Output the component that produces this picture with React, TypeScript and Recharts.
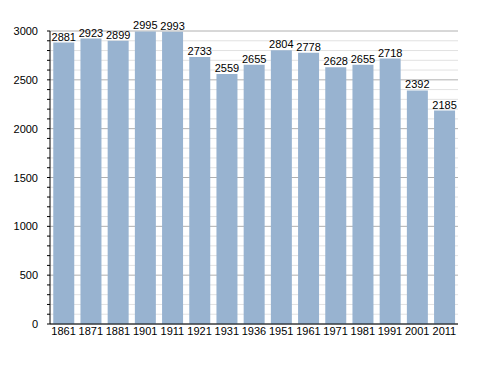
import React from "react";
import {
  BarChart,
  Bar,
  XAxis,
  YAxis,
  CartesianGrid,
  LabelList,
} from "recharts";

// census years and population
const years = ["1861", "1871", "1881", "1901", "1911", "1921", "1931", "1936", "1951", "1961", "1971", "1981", "1991", "2001", "2011"];
const population = [2881, 2923, 2899, 2995, 2993, 2733, 2559, 2655, 2804, 2778, 2628, 2655, 2718, 2392, 2185];
const majorTicks = [0, 500, 1000, 1500, 2000, 2500, 3000];
const minorTicks = Array.from({ length: 31 }, (_, i) => i * 100);

const font = "'Liberation Sans', Arial, sans-serif";

const YTick = (props: any) => {
  const { x, y, payload } = props;
  const major = payload.value % 500 === 0;
  return (
    <g>
      <line x1={x - 3} x2={x} y1={y} y2={y} stroke="#000" strokeWidth={1} />
      {major && (
        <text x={x - 12} y={y} dy={4} textAnchor="end" fontSize={11} fill="#000" fontFamily={font}>
          {payload.value}
        </text>
      )}
    </g>
  );
};

export default function App() {
  const data = years.map((year, i) => ({ year, value: population[i] }));

  return (
    <div style={{ position: "absolute", left: 0, top: 0, background: "#fff" }}>
      <BarChart
        width={488}
        height={373}
        data={data}
        margin={{ top: 31, right: 30, bottom: 29, left: 0 }}
        barCategoryGap="12%"
      >
        <CartesianGrid
          vertical={false}
          stroke="#e2e2e2"
          horizontalValues={minorTicks.filter((v) => v % 500 !== 0)}
        />
        <CartesianGrid vertical={false} stroke="#b0b0b0" horizontalValues={majorTicks} />
        <XAxis
          dataKey="year"
          tickLine={false}
          tickSize={0}
          tickMargin={3}
          axisLine={{ stroke: "#000" }}
          tick={{ fontSize: 11, fill: "#000", fontFamily: font }}
          height={20}
          interval={0}
        />
        <YAxis
          width={50}
          domain={[0, 3000]}
          ticks={minorTicks}
          interval={0}
          tickLine={false}
          tickSize={0}
          tickMargin={0}
          axisLine={{ stroke: "#000" }}
          tick={<YTick />}
        />
        <Bar dataKey="value" fill="#98b3d0" isAnimationActive={false}>
          <LabelList dataKey="value" position="top" offset={2} fontSize={11} fill="#000" fontFamily={font} />
        </Bar>
      </BarChart>
    </div>
  );
}
